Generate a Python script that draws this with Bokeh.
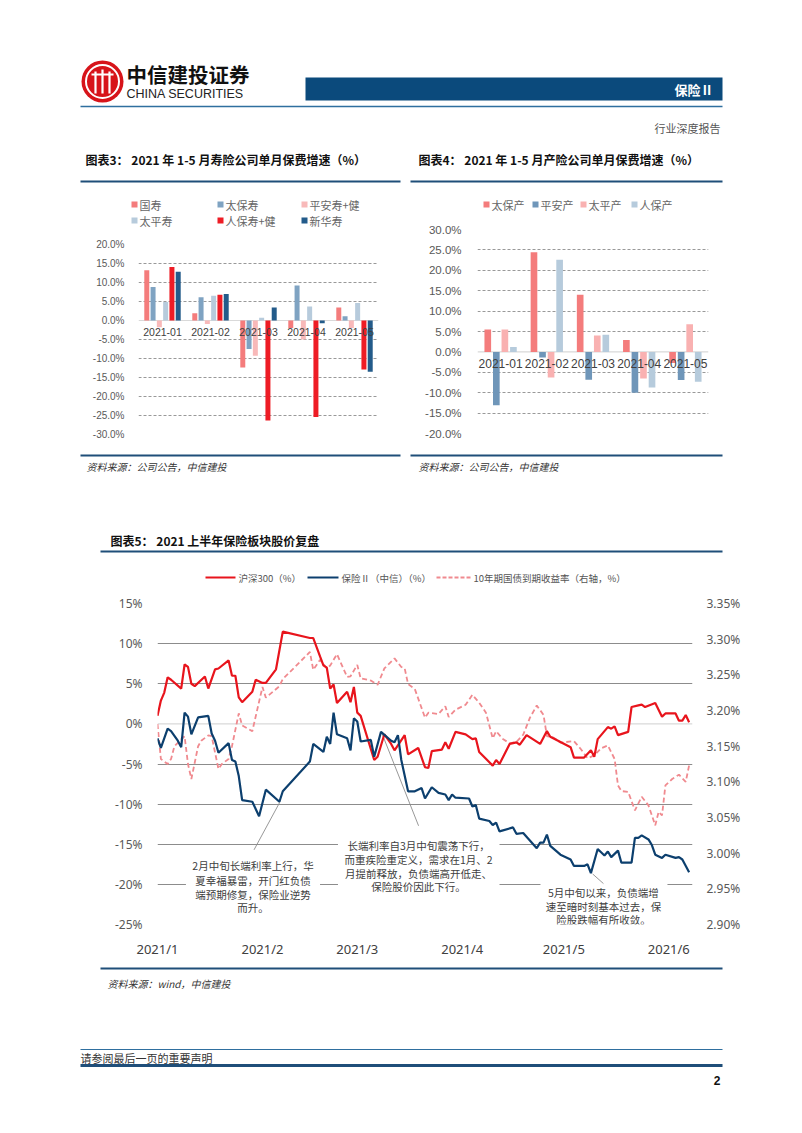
from bokeh.plotting import figure
from bokeh.models import Range1d, FactorRange, FixedTicker, PrintfTickFormatter, LinearAxis, Span
from bokeh.layouts import column, row
from bokeh.embed import file_html
from bokeh.resources import INLINE
from bokeh.core.properties import value
from bokeh.transform import dodge

CJK = "Noto Sans CJK SC"
LAT = "Liberation Sans"
NAVY = "#1f4e79"

# ---------------- data: chart 3 (life insurers, monthly premium growth %) ----------------
months = ["2021-01", "2021-02", "2021-03", "2021-04", "2021-05"]
life_names = ["国寿", "太保寿", "平安寿+健", "太平寿", "人保寿+健", "新华寿"]
life_colors = ["#f47c7c", "#7fa3c2", "#f8b9b9", "#b7cbdc", "#ee1c25", "#235b8a"]
guoshou = [13.2, 1.9, -12.4, -2.0, 3.4]
taibaoshou = [8.8, 6.1, -7.5, 9.2, 1.1]
pinganshou = [-1.8, -0.9, -9.3, -5.0, -2.0]
taipingshou = [4.9, 6.5, 0.7, 3.7, 4.6]
renbaoshou = [14.1, 6.8, -26.3, -25.4, -12.9]
xinhuashou = [12.8, 7.0, 3.4, -0.7, -13.5]
life_series = [guoshou, taibaoshou, pinganshou, taipingshou, renbaoshou, xinhuashou]
life_ticks = [-30, -25, -20, -15, -10, -5, 0, 5, 10, 15, 20]

# ---------------- data: chart 4 (P&C insurers) ----------------
pc_names = ["太保产", "平安产", "太平产", "人保产"]
pc_colors = ["#f47c7c", "#6f96b9", "#f9b1b1", "#b6cbdc"]
taibaochan = [5.5, 24.4, 14.0, 2.9, -2.7]
pinganchan = [-13.1, -1.4, -6.8, -10.0, -6.9]
taipingchan = [5.5, -6.3, 4.0, -6.5, 6.8]
renbaochan = [1.2, 22.6, 4.2, -8.7, -7.3]
pc_series = [taibaochan, pinganchan, taipingchan, renbaochan]
pc_ticks = [-20, -15, -10, -5, 0, 5, 10, 15, 20, 25, 30]

# ---------------- data: chart 5 (days since 2021-01-04) ----------------
hs300_day = [0, 1, 2, 3, 4, 7, 8, 9, 10, 11, 14, 15, 17, 18, 21, 22, 23, 24, 25, 28, 29, 31, 32, 35, 37,
             45, 46, 48, 49, 50, 51, 52, 53, 56, 57, 58, 59, 60, 64, 65, 67, 69, 70, 73, 74, 77, 79, 80,
             81, 84, 85, 86, 88, 91, 93, 94, 95, 99, 100, 101, 104, 106, 107, 109, 113, 115, 116, 122,
             123, 126, 128, 129, 130, 133, 134, 135, 136, 139, 140, 142, 143, 144, 147, 149, 150, 153,
             154, 155, 156, 157]
hs300_val = [1.0, 2.9, 3.9, 5.8, 5.5, 4.4, 7.4, 7.1, 5.0, 4.7, 5.9, 4.4, 6.8, 6.9, 7.9, 6.0, 6.0, 3.3, 2.7,
             4.0, 5.5, 5.1, 5.1, 6.8, 11.5, 10.7, 10.7, 8.4, 7.3, 7.0, 4.4, 4.9, 2.6, 4.0, 2.7, 4.6, 1.4,
             1.0, -4.5, -4.1, -1.3, -2.5, -3.3, -1.4, -3.8, -3.0, -5.4, -5.5, -3.4, -3.2, -2.3, -3.1,
             -1.0, -1.3, -1.9, -1.8, -3.5, -5.2, -4.5, -5.0, -2.5, -2.3, -2.6, -1.4, -2.5, -0.9, -1.6,
             -2.9, -4.2, -4.2, -3.3, -4.1, -1.9, -0.4, -0.6, -0.3, -1.4, -1.0, 2.1, 2.3, 2.4, 2.1, 2.6,
             0.9, 1.3, 1.3, 0.4, 0.4, 1.1, 0.2]

ins_day = [0, 1, 3, 4, 6, 7, 8, 9, 10, 12, 15, 16, 17, 18, 21, 22, 23, 24, 25, 28, 30, 32, 36, 37, 45, 46,
           49, 50, 51, 52, 53, 56, 57, 58, 59, 60, 63, 64, 66, 69, 70, 71, 72, 74, 76, 78, 79, 81, 83, 85,
           86, 87, 88, 92, 93, 94, 95, 98, 99, 100, 101, 105, 106, 108, 112, 113, 114, 115, 116, 119, 122,
           123, 126, 127, 128, 130, 132, 133, 134, 136, 137, 140, 141, 142, 143, 145, 146, 147, 149, 150,
           153, 154, 155, 157]
ins_val = [-1.8, -3.0, -0.6, -0.9, -2.1, -2.9, 1.4, 0.9, -1.3, 0.8, 1.0, -1.2, -2.1, -3.6, -2.4, -4.5, -4.7,
           -6.5, -9.5, -9.7, -11.5, -8.2, -9.7, -8.4, -4.7, -2.5, -3.5, -1.6, -2.5, 1.4, -1.3, -1.8, -3.3,
           0.7, 0.3, -2.2, -2.0, -4.1, -1.0, -2.1, -2.3, -1.4, -4.5, -8.4, -8.4, -8.0, -9.3, -7.9, -8.6,
           -8.8, -9.5, -8.8, -9.2, -9.3, -10.3, -10.1, -11.8, -12.1, -12.6, -12.3, -13.4, -12.9, -13.7,
           -13.6, -15.5, -14.8, -14.8, -13.8, -15.2, -16.3, -16.9, -17.7, -17.7, -17.5, -18.6, -15.6,
           -16.4, -15.9, -16.6, -15.8, -17.3, -17.3, -14.2, -14.2, -13.9, -14.4, -15.1, -16.3, -16.7,
           -16.3, -16.7, -16.6, -16.9, -18.5]

yield_day = [0, 1, 3, 4, 5, 8, 9, 10, 12, 13, 15, 16, 18, 19, 21, 22, 24, 25, 28, 31, 32, 36, 37, 45, 46,
             48, 50, 51, 53, 56, 57, 59, 60, 63, 65, 67, 70, 72, 73, 74, 76, 79, 80, 83, 85, 86, 88, 91,
             93, 95, 97, 99, 100, 102, 104, 106, 108, 110, 112, 114, 115, 117, 119, 123, 125, 127, 129,
             131, 133, 135, 136, 137, 139, 141, 143, 145, 147, 148, 149, 150, 152, 154, 156, 157]
yield_val = [3.181, 3.132, 3.125, 3.132, 3.150, 3.164, 3.125, 3.104, 3.150, 3.158, 3.165, 3.164, 3.118,
             3.125, 3.132, 3.150, 3.196, 3.179, 3.171, 3.233, 3.218, 3.234, 3.244, 3.282, 3.257, 3.271,
             3.259, 3.263, 3.279, 3.247, 3.248, 3.264, 3.245, 3.242, 3.236, 3.259, 3.273, 3.261, 3.259,
             3.237, 3.230, 3.190, 3.197, 3.195, 3.206, 3.191, 3.201, 3.208, 3.222, 3.211, 3.197, 3.161,
             3.171, 3.160, 3.154, 3.156, 3.166, 3.190, 3.207, 3.194, 3.164, 3.162, 3.155, 3.157, 3.146,
             3.133, 3.137, 3.147, 3.151, 3.132, 3.095, 3.087, 3.086, 3.060, 3.079, 3.067, 3.039, 3.058,
             3.053, 3.095, 3.104, 3.110, 3.100, 3.123]

month_tick_day = [0, 31, 59, 90, 120, 151]
month_tick_label = ["2021/1", "2021/2", "2021/3", "2021/4", "2021/5", "2021/6"]
left_ticks = [-25, -20, -15, -10, -5, 0, 5, 10, 15]
right_ticks = [2.90, 2.95, 3.00, 3.05, 3.10, 3.15, 3.20, 3.25, 3.30, 3.35]

note1 = ["2月中旬长端利率上行，华", "夏幸福暴雷，开门红负债", "端预期修复，保险业逆势", "而升。"]
note2 = ["长端利率自3月中旬震荡下行，", "而重疾险重定义，需求在1月、2", "月提前释放，负债端高开低走、", "保险股价因此下行。"]
note3 = ["5月中旬以来，负债端增", "速至暗时刻基本过去，保", "险股跌幅有所收敛。"]

W = 786  # page content width (page x 0..786)


# ---------------- helpers ----------------
def deco(x0, x1, y0, y1):
    """Blank canvas whose data units equal page pixels (y grows downward)."""
    p = figure(width=x1 - x0, height=y1 - y0, x_range=Range1d(x0, x1), y_range=Range1d(y1, y0),
               x_axis_location=None, y_axis_location=None, toolbar_location=None,
               output_backend="svg", min_border=0, outline_line_color=None)
    p.grid.visible = False
    return p


def txt(p, x, y, s, size, color="#333333", font=CJK, style="normal", align="left", baseline="middle"):
    p.text(x=[x], y=[y], text=[s], text_font=value(font), text_font_size=f"{size}px",
           text_color=color, text_font_style=style, text_align=align, text_baseline=baseline)


def hline(p, x0, x1, y, color=NAVY, width=2.0):
    p.segment(x0=[x0], y0=[y], x1=[x1], y1=[y], line_color=color, line_width=width)


# ---------------- header decoration (page y 0..146) ----------------
top = deco(0, W, 0, 146)
top.circle(x=[102], y=[81], radius=21, fill_color="#d7141a", line_color=None)
top.circle(x=[102], y=[81], radius=16.5, fill_color=None, line_color="white", line_width=2)
top.segment(x0=[95, 102, 109], y0=[71, 69, 71], x1=[95, 102, 109], y1=[93, 93, 93],
            line_color="white", line_width=2.2)
top.segment(x0=[91], y0=[74], x1=[113], y1=[74], line_color="white", line_width=2)
txt(top, 126, 73, "中信建投证券", 20.5, color="#111111", style="bold")
txt(top, 126, 93, "CHINA SECURITIES", 12.5, color="#222222", font=LAT)
top.quad(left=[305], right=[722], top=[77], bottom=[100], fill_color="#0b4a7c", line_color=None)
txt(top, 713, 89, "保险Ⅱ", 13, color="white", style="bold", align="right")
hline(top, 80, 722, 106, color="#2f6f9f", width=1.3)
txt(top, 720, 127, "行业深度报告", 11, color="#555555", align="right")

# left column heading (page x 0..405, y 146..228)
left_head = deco(0, 405, 146, 228)
txt(left_head, 85, 159, "图表3：  2021 年 1-5 月寿险公司单月保费增速（%）", 12, color="#111111", style="bold")
hline(left_head, 80, 400, 181)
leg3_x = [134, 220, 304, 134, 220, 304]
leg3_y = [204, 204, 204, 220, 220, 220]
for i, nm in enumerate(life_names):
    left_head.scatter(x=[leg3_x[i]], y=[leg3_y[i]], marker="square", size=6, fill_color=life_colors[i],
                      line_color=None)
    txt(left_head, leg3_x[i] + 5, leg3_y[i], nm, 11, color="#666666")

# right column heading (page x 405..786, y 146..214)
right_head = deco(405, W, 146, 214)
txt(right_head, 418, 159, "图表4：  2021 年 1-5 月产险公司单月保费增速（%）", 12, color="#111111", style="bold")
hline(right_head, 410, 722, 181)
leg4_x = [486, 535, 583, 634]
for i, nm in enumerate(pc_names):
    right_head.scatter(x=[leg4_x[i]], y=[204], marker="square", size=6, fill_color=pc_colors[i], line_color=None)
    txt(right_head, leg4_x[i] + 5, 204, nm, 11, color="#666666")


# ---------------- bar chart helper ----------------
def bar_chart(width, height, borders, yr, ticks, names, colors, series, bar_w, step, tick_font,
              cat_font, cat_off, standoff):
    bl, br, bt, bb = borders
    p = figure(width=width, height=height, x_range=FactorRange(factors=months), y_range=Range1d(*yr),
               x_axis_location=None, toolbar_location=None, output_backend="svg",
               min_border_left=bl, min_border_right=br, min_border_top=bt, min_border_bottom=bb,
               outline_line_color=None)
    p.xgrid.visible = False
    p.yaxis.ticker = FixedTicker(ticks=ticks)
    p.yaxis.formatter = PrintfTickFormatter(format="%.1f%%")
    p.yaxis.axis_line_color = None
    p.yaxis.major_tick_line_color = None
    p.yaxis.minor_tick_line_color = None
    p.yaxis.major_label_standoff = standoff
    p.yaxis.major_label_text_font = LAT
    p.yaxis.major_label_text_font_size = tick_font
    p.yaxis.major_label_text_color = "#595959"
    p.ygrid.ticker = FixedTicker(ticks=[t for t in ticks if t != 0])
    p.ygrid.grid_line_color = "#7f7f7f"
    p.ygrid.grid_line_dash = "3 2"
    p.ygrid.grid_line_width = 0.8
    p.add_layout(Span(location=0, dimension="width", line_color="#d9d9d9", line_width=1.2, level="underlay"))
    n = len(series)
    for i, vals in enumerate(series):
        off = (i - (n - 1) / 2) * step
        p.vbar(x=dodge("m", off, range=p.x_range), top="v", bottom=0, width=bar_w,
               source={"m": months, "v": vals}, fill_color=colors[i], line_color=None)
    p.text(x=months, y=[0] * len(months), text=months, y_offset=cat_off, text_align="center",
           text_baseline="middle", text_font=value(LAT), text_font_size=cat_font, text_color="#404040")
    return p


# chart 3: page x 0..405, y 228..450, frame x 138..378, y 244..434
p3 = bar_chart(405, 222, (138, 27, 16, 16), (-30, 20), life_ticks, life_names, life_colors, life_series,
               0.104, 0.131, "10px", "10.5px", 11, 8)
# chart 4: page x 405..786, y 214..450, frame x 477..708, y 229..433
p4 = bar_chart(381, 236, (72, 78, 15, 17), (-20, 30), pc_ticks, pc_names, pc_colors, pc_series,
               0.144, 0.185, "11.5px", "12px", 12, 10)

# ---------------- middle decoration (page y 450..592) ----------------
mid = deco(0, W, 450, 592)
hline(mid, 80, 400, 455)
hline(mid, 410, 722, 455)
txt(mid, 86, 466, "资料来源：公司公告，中信建投", 10, color="#333333", style="italic")
txt(mid, 418, 466, "资料来源：公司公告，中信建投", 10, color="#333333", style="italic")
txt(mid, 110, 540, "图表5：  2021 上半年保险板块股价复盘", 12, color="#111111", style="bold")
hline(mid, 100, 722, 551)
mid.segment(x0=[205], y0=[577], x1=[235], y1=[577], line_color="#e8141c", line_width=2)
txt(mid, 238, 577, "沪深300（%）", 9.5, color="#555555")
mid.segment(x0=[307], y0=[577], x1=[338], y1=[577], line_color="#0c3f6e", line_width=2)
txt(mid, 341, 577, "保险Ⅱ（中信）（%）", 9.5, color="#555555")
mid.segment(x0=[436], y0=[577], x1=[470], y1=[577], line_color="#f08a8f", line_width=1.8, line_dash="4 2")
txt(mid, 473, 577, "10年期国债到期收益率（右轴，%）", 9.5, color="#555555")

# ---------------- chart 5 (page y 592..960, frame x 157..692) ----------------
p5 = figure(width=W, height=368, x_range=Range1d(0, 158), y_range=Range1d(-25, 15),
            toolbar_location=None, output_backend="svg", min_border_left=157, min_border_right=94,
            min_border_top=11, min_border_bottom=33, outline_line_color=None)
p5.extra_y_ranges = {"yld": Range1d(2.90, 3.35)}
p5.xgrid.visible = False
p5.ygrid.ticker = FixedTicker(ticks=[t for t in left_ticks if t != 0])
p5.ygrid.grid_line_color = "#8c8c8c"
p5.ygrid.grid_line_width = 1
p5.add_layout(Span(location=0, dimension="width", line_color="#d9d9d9", line_width=1.2, level="underlay"))

p5.yaxis.ticker = FixedTicker(ticks=left_ticks)
p5.yaxis.formatter = PrintfTickFormatter(format="%d%%")
ax_r = LinearAxis(y_range_name="yld", ticker=FixedTicker(ticks=right_ticks),
                  formatter=PrintfTickFormatter(format="%.2f%%"))
p5.add_layout(ax_r, "right")
p5.xaxis.ticker = FixedTicker(ticks=month_tick_day)
p5.xaxis.major_label_overrides = dict(zip(month_tick_day, month_tick_label))
for ax in [p5.yaxis[0], ax_r, p5.xaxis[0]]:
    ax.axis_line_color = None
    ax.major_tick_line_color = None
    ax.minor_tick_line_color = None
    ax.major_label_text_font = "Noto Sans"
    ax.major_label_text_color = "#595959"
    ax.major_label_text_font_size = "12px"
p5.yaxis[0].major_label_standoff = 9
ax_r.major_label_standoff = 8
p5.xaxis.major_label_standoff = 9
p5.xaxis.major_label_text_font_size = "13px"
p5.xaxis.major_label_text_color = "#404040"

# annotation boxes (white backgrounds)
p5.quad(left=[8.4, 53.3, 113.1], right=[48.0, 101.0, 150.6], top=[-15.7, -13.9, -19.1],
        bottom=[-24.0, -21.6, -25.5], fill_color="white", line_color=None)
p5.segment(x0=[28.5, 66.2, 128.5], y0=[-15.7, -1.1, -18.7], x1=[36.2, 77.1, 131.7], y1=[-9.7, -12.7, -19.9],
           line_color="#8c8c8c", line_width=0.9)

p5.line(yield_day, yield_val, y_range_name="yld", line_color="#f08a8f", line_width=1.8, line_dash="5 3")
p5.line(hs300_day, hs300_val, line_color="#e8141c", line_width=2.2)
p5.line(ins_day, ins_val, line_color="#0c3f6e", line_width=2.2)

p5.text(x=[28.2] * 4, y=[-17.6, -19.5, -21.2, -22.9], text=note1, text_align="center", text_baseline="middle",
        text_font=value(CJK), text_font_size="10.5px", text_color="#404040")
p5.text(x=[77.1] * 4, y=[-15.2, -16.9, -18.6, -20.3], text=note2, text_align="center", text_baseline="middle",
        text_font=value(CJK), text_font_size="10.5px", text_color="#404040")
p5.text(x=[131.7] * 3, y=[-21.0, -22.7, -24.4], text=note3, text_align="center", text_baseline="middle",
        text_font=value(CJK), text_font_size="10.5px", text_color="#404040")

# ---------------- bottom decoration (page y 960..1117) ----------------
bot = deco(0, W, 960, 1117)
hline(bot, 100, 722, 968)
txt(bot, 107, 983, "资料来源：wind，中信建投", 10, color="#333333", style="italic")
hline(bot, 80, 722, 1049, color="#2f6f9f", width=1.2)
txt(bot, 80, 1057, "请参阅最后一页的重要声明", 11, color="#333333")
hline(bot, 80, 722, 1065, color=NAVY, width=3)
txt(bot, 720, 1080, "2", 12, color="#111111", font=LAT, style="bold", align="right")

left_col = column(row(left_head), row(p3))
right_col = column(row(right_head), row(p4))
page = column(row(top), row(left_col, right_col), row(mid), row(p5), row(bot))
open("out.html", "w").write(file_html(page, INLINE))
